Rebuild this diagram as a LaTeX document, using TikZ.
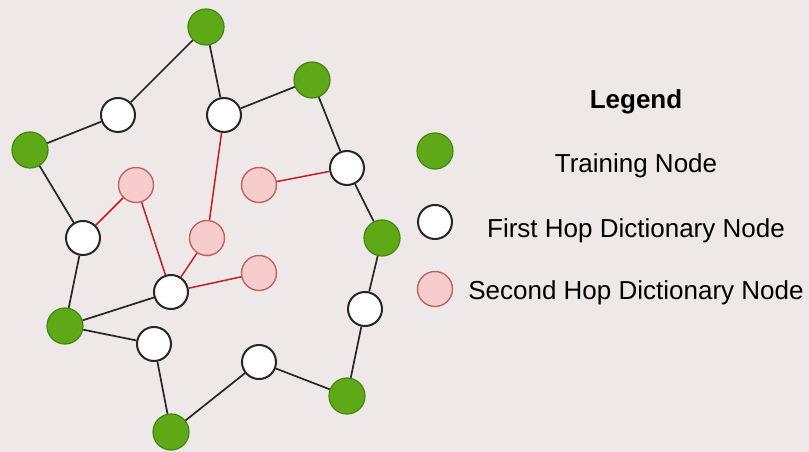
\documentclass[tikz,border=0pt]{standalone}
\usepackage{fontspec}
\setmainfont{Liberation Sans}
\definecolor{bg}{HTML}{EEE8E8}
\definecolor{gfill}{HTML}{5FA918}
\definecolor{gdraw}{HTML}{3E8A0C}
\definecolor{pfill}{HTML}{F6CDCC}
\definecolor{pdraw}{HTML}{C0625E}
\definecolor{redline}{HTML}{C41E1E}
\begin{document}
\begin{tikzpicture}[x=1pt,y=-1pt,
  train/.style={circle,minimum size=36pt,inner sep=0pt,fill=gfill,draw=gdraw,line width=1.2pt},
  hop/.style={circle,minimum size=34pt,inner sep=0pt,fill=white,draw=black!85,line width=2pt},
  hoptwo/.style={circle,minimum size=35pt,inner sep=0pt,fill=pfill,draw=pdraw,line width=1.4pt},
  blk/.style={draw=black!85,line width=1.7pt},
  red/.style={draw=redline,line width=1.5pt},
  lbl/.style={font=\fontsize{26}{30}\selectfont,anchor=base}]
\fill[bg] (0,0) rectangle (809,452);
\useasboundingbox (0,0) rectangle (809,452);
% training nodes
\node[train] (G1) at (206,27) {};
\node[train] (G2) at (312,80) {};
\node[train] (G3) at (30,150) {};
\node[train] (G4) at (382,238) {};
\node[train] (G5) at (65,326) {};
\node[train] (G6) at (171,432) {};
\node[train] (G7) at (347,396) {};
% first hop
\node[hop] (W1) at (118,115) {};
\node[hop] (W2) at (224,115) {};
\node[hop] (W3) at (347,168) {};
\node[hop] (W4) at (83,238) {};
\node[hop] (W5) at (171,292) {};
\node[hop] (W6) at (154,344) {};
\node[hop] (W7) at (259,362) {};
\node[hop] (W8) at (365,309) {};
% second hop
\node[hoptwo] (P1) at (136,185) {};
\node[hoptwo] (P2) at (259,185) {};
\node[hoptwo] (P3) at (207,238) {};
\node[hoptwo] (P4) at (259,273) {};
% black edges
\path[blk] (G1) -- (W1);
\path[blk] (G1) -- (W2);
\path[blk] (W2) -- (G2);
\path[blk] (G3) -- (W1);
\path[blk] (G2) -- (W3);
\path[blk] (W3) -- (G4);
\path[blk] (G3) -- (W4);
\path[blk] (W4) -- (G5);
\path[blk] (G5) -- (W5);
\path[blk] (G5) -- (W6);
\path[blk] (W6) -- (G6);
\path[blk] (G6) -- (W7);
\path[blk] (W7) -- (G7);
\path[blk] (G7) -- (W8);
\path[blk] (W8) -- (G4);
% red edges
\path[red] (W4) -- (P1);
\path[red] (P1) -- (W5);
\path[red] (W2) -- (P3);
\path[red] (P3) -- (W5);
\path[red] (W5) -- (P4);
\path[red] (W3) -- (P2);
% legend
\node[lbl,font=\fontsize{26}{30}\selectfont\bfseries] (LT) at (636,109) {Legend};
\node[train] (L1) at (435,151) {};
\node[hop] (L2) at (435,222) {};
\node[hoptwo] (L3) at (435,289) {};
\node[lbl] (T1) at (636,172) {Training Node};
\node[lbl] (T2) at (636,237) {First Hop Dictionary Node};
\node[lbl] (T3) at (636,299) {Second Hop Dictionary Node};
\end{tikzpicture}
\end{document}
